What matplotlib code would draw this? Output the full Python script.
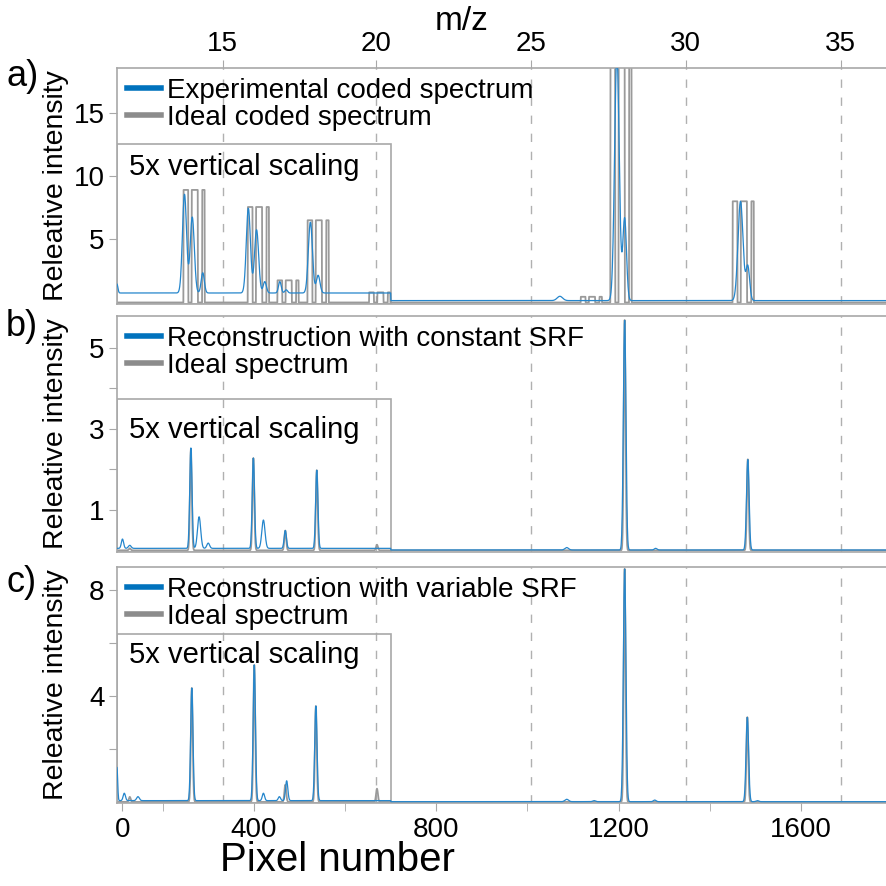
import numpy as np
import matplotlib.pyplot as plt
from matplotlib.lines import Line2D
from matplotlib.patches import Rectangle

plt.rcParams['font.family'] = ['Liberation Sans', 'DejaVu Sans']

BLUE = '#2586cc'
BLUE_LEG = '#0072bd'
GRAY = '#9a9a9a'
GRAY_LEG = '#8c8c8c'
FRAME = '#a8a8a8'

# detector pixel grid
pix = np.arange(100, 1790, 0.5)

# left part of every panel is shown with 5x vertical scaling
inset_end = 700
inset_scale = 5

# m/z axis on top: values and their position on the pixel axis
mz_labels = [15, 20, 25, 30, 35]
mz_pixels = [332, 667, 1007, 1347, 1687]

# ---- a) coded spectrum ----
# each mass gives three bars (offsets inside a group, in pixels)
code_bars = [(0, 10), (18, 31), (41, 46)]
coded_start = [246, 387, 452, 518, 653, 1117, 1182, 1450]
coded_height = [1.78, 1.51, 0.35, 1.30, 0.16, 0.45, 20.0, 8.0]

# measured coded spectrum peaks: centre, height, width
exp_center = [100, 248, 265, 288, 388, 406, 424, 457, 471, 524, 541, 1071, 1196, 1213, 1467, 1483]
exp_height = [0.14, 1.56, 1.20, 0.32, 1.34, 1.00, 0.18, 0.18, 0.05, 1.12, 0.28, 0.34, 19.5, 6.5, 7.85, 2.7]
exp_width = [2, 4.5, 4.5, 3.5, 4.5, 4.5, 3.5, 3, 3, 4.5, 4, 6, 5, 4, 5.5, 4]
exp_base = 0.15

# ---- b) reconstruction, constant SRF ----
rc_center = [112, 128, 262, 280, 300, 399, 421, 469, 538, 1086, 1213, 1281, 1483]
rc_height = [0.046, 0.015, 0.496, 0.156, 0.026, 0.446, 0.14, 0.088, 0.386, 0.06, 5.67, 0.04, 2.23]
rc_width = [2.5, 3, 2.5, 3.5, 3, 2.5, 3.5, 2.5, 2.5, 4, 2.8, 3, 2.8]
ideal_b_center = [128, 262, 399, 469, 538, 670, 1213, 1483]
ideal_b_height = [0.01, 0.50, 0.456, 0.098, 0.396, 0.028, 5.69, 2.25]

# ---- c) reconstruction, variable SRF ----
rv_center = [100, 116, 146, 264, 401, 421, 456, 472, 536, 1086, 1146, 1213, 1279, 1482, 1504]
rv_height = [0.25, 0.056, 0.03, 0.85, 1.024, 0.056, 0.03, 0.15, 0.714, 0.09, 0.04, 8.78, 0.06, 3.18, 0.04]
rv_width = [1.5, 2.5, 3, 2.5, 2.5, 2.5, 2.5, 2.5, 2.5, 4, 3, 2.8, 3, 2.8, 3]
ideal_c_center = [128, 264, 401, 469, 536, 670, 1213, 1482]
ideal_c_height = [0.038, 0.86, 1.034, 0.13, 0.724, 0.1, 8.8, 3.2]
rec_base = 0.01


def peaks(centers, heights, widths, base=0.0):
    y = np.full(pix.shape, base)
    for c, h, w in zip(centers, heights, widths):
        y += h * np.exp(-0.5 * ((pix - c) / w) ** 2)
    return y


def scaled(y):
    return np.where(pix <= inset_end, y * inset_scale, y)


coded = np.zeros(pix.shape)
for s, h in zip(coded_start, coded_height):
    for a, b in code_bars:
        coded[(pix >= s + a) & (pix <= s + b)] = h

exp_y = peaks(exp_center, exp_height, exp_width, exp_base)
rc_y = peaks(rc_center, rc_height, rc_width, rec_base)
ib_y = peaks(ideal_b_center, ideal_b_height, [2] * len(ideal_b_center))
rv_y = peaks(rv_center, rv_height, rv_width, rec_base)
ic_y = peaks(ideal_c_center, ideal_c_height, [2] * len(ideal_c_center))

fig = plt.figure(figsize=(8.86, 8.86), dpi=100)
W = 886.0
left = 117 / W
width = 1 - left
ax_a = fig.add_axes([left, 1 - 304 / W, width, 236 / W])
ax_b = fig.add_axes([left, 1 - 552 / W, width, 236 / W])
ax_c = fig.add_axes([left, 1 - 803 / W, width, 236 / W])

panels = [
    (ax_a, exp_y, coded, (-0.12, 18.54), 12.5, 10.7, [5, 10, 15], [5, 10, 15],
     'Experimental coded spectrum', 'Ideal coded spectrum', 'a)', 77),
    (ax_b, rc_y, ib_y, (-0.04, 5.79), 3.74, 2.98, [1, 2, 3, 4, 5], [1, 3, 5],
     'Reconstruction with constant SRF', 'Ideal spectrum', 'b)', 327),
    (ax_c, rv_y, ic_y, (-0.04, 8.87), 6.34, 5.55, [2, 4, 6, 8], [4, 8],
     'Reconstruction with variable SRF', 'Ideal spectrum', 'c)', 582),
]

for ax, blue, gray, ylim, box_top, txt_y, yticks, ylabeled, lab1, lab2, tag, tag_y in panels:
    ax.set_xlim(100, 1786)
    ax.set_ylim(*ylim)
    for p in mz_pixels:
        ax.axvline(p, color='#b0b0b0', lw=1, ls=(0, (6, 7)), zorder=0)
    ax.add_patch(Rectangle((100, ylim[0]), inset_end - 100, box_top - ylim[0],
                           fill=False, edgecolor=FRAME, lw=1.2, zorder=1))
    ax.plot(pix, scaled(gray), color=GRAY, lw=1.3, zorder=2)
    ax.plot(pix, scaled(blue), color=BLUE, lw=0.9, zorder=3)
    ax.text(378, txt_y, '5x vertical scaling', fontsize=21, ha='center', va='center')

    handles = [Line2D([], [], color=BLUE_LEG, lw=4), Line2D([], [], color=GRAY_LEG, lw=4)]
    ax.legend(handles, [lab1, lab2], loc='upper left', frameon=False, fontsize=20,
              handlelength=1.25, handletextpad=0.2, borderpad=0.15, borderaxespad=0.2,
              labelspacing=0.05)

    ax.set_yticks(yticks)
    ax.set_yticklabels([str(t) if t in ylabeled else '' for t in yticks])
    ax.tick_params(axis='y', direction='out', length=6, color=FRAME, labelsize=20, pad=3)
    ax.set_ylabel('Releative intensity', fontsize=20.5)
    ax.yaxis.set_label_coords(-0.063, 0.5)

    for sp in ['top', 'bottom', 'left']:
        ax.spines[sp].set_color(FRAME)
        ax.spines[sp].set_linewidth(1.2)
    ax.spines['right'].set_visible(False)

    fig.text(6 / W, 1 - tag_y / W, tag, fontsize=26, va='center', ha='left')

for ax in [ax_a, ax_b]:
    ax.set_xticks([])

ax_c.set_xticks([112, 400, 800, 1200, 1600])
ax_c.set_xticklabels(['0', '400', '800', '1200', '1600'])
ax_c.set_xticks([200, 600, 1000, 1400], minor=True)
ax_c.tick_params(axis='x', which='both', direction='out', length=6, color=FRAME,
                 labelsize=20, pad=4)
ax_c.set_xlabel('Pixel number', fontsize=29)
ax_c.xaxis.set_label_coords(0.287, -0.16)

top = ax_a.twiny()
top.set_xlim(ax_a.get_xlim())
top.set_xticks(mz_pixels)
top.set_xticklabels([str(m) for m in mz_labels])
top.tick_params(axis='x', direction='out', length=6, color=FRAME, labelsize=20, pad=2)
for sp in top.spines.values():
    sp.set_visible(False)
fig.text(462 / W, 1 - 22 / W, 'm/z', fontsize=24, ha='center', va='center')

fig.savefig('out.png', dpi=100)
